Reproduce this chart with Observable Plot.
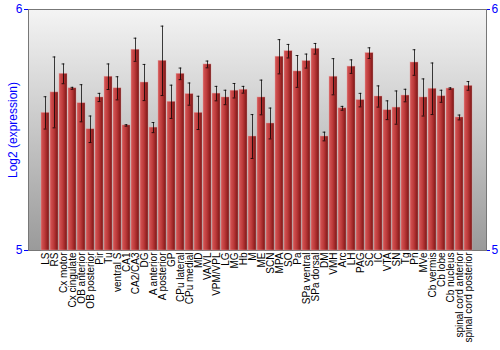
<!DOCTYPE html>
<html>
<head>
<meta charset="utf-8">
<script src="https://cdn.jsdelivr.net/npm/d3@7"></script>
<script src="https://cdn.jsdelivr.net/npm/@observablehq/plot@0.6"></script>
<style>
  body { margin: 0; background: #fff; }
  #chart { width: 500px; height: 350px; }
</style>
</head>
<body>
<div id="chart"></div>
<script>
const regions = ["LS","RS","Cx motor","Cx cingulate","OB anterior","OB posterior","Pir","Tu","ventral S","CA1","CA2/CA3","DG","A anterior","A posterior","GP","CPu lateral","CPu medial","MD","VA/VL","VPM/VPL","LG","MG","Hb","M","ME","SCN","MPA","SO","Pa","SPa ventral","SPa dorsal","DM","VMH","Arc","LH","PAG","SC","IC","VTA","SN","Tg","Pn","MVe","Cb vermis","Cb lobe","Cb nucleus","spinal cord anterior","spinal cord posterior"];
const expression = [5.571,5.656,5.733,5.673,5.611,5.503,5.635,5.721,5.673,5.519,5.833,5.697,5.510,5.787,5.617,5.733,5.649,5.571,5.772,5.651,5.635,5.663,5.667,5.473,5.635,5.527,5.804,5.827,5.743,5.786,5.837,5.473,5.721,5.590,5.763,5.624,5.819,5.639,5.582,5.593,5.643,5.780,5.635,5.671,5.640,5.672,5.552,5.683];
const errors = [0.067,0.147,0.041,0.004,0.077,0.055,0.017,0.053,0.048,0.003,0.048,0.075,0.021,0.144,0.069,0.024,0.046,0.069,0.014,0.030,0.030,0.030,0.014,0.091,0.072,0.064,0.071,0.028,0.066,0.029,0.022,0.018,0.075,0.008,0.028,0.028,0.022,0.044,0.039,0.069,0.026,0.053,0.077,0.107,0.025,0.003,0.010,0.018];
const yTicks = [5, 6];
const yLabel = "Log2 (expression)";

const data = regions.map((r, i) => ({region: r, value: expression[i], lo: expression[i] - errors[i], hi: expression[i] + errors[i], base: 5}));

const defs = () => {
  const g = d3.create("svg:defs");
  const bg = g.append("linearGradient").attr("id", "bgGrad").attr("x1", 0).attr("y1", 0).attr("x2", 0).attr("y2", 1);
  bg.append("stop").attr("offset", "0%").attr("stop-color", "#f4f4f4");
  bg.append("stop").attr("offset", "100%").attr("stop-color", "#9a9a9a");
  const bar = g.append("linearGradient").attr("id", "barGrad").attr("x1", 0).attr("y1", 0).attr("x2", 1).attr("y2", 0);
  bar.append("stop").attr("offset", "0%").attr("stop-color", "#d65858");
  bar.append("stop").attr("offset", "45%").attr("stop-color", "#bd3b3b");
  bar.append("stop").attr("offset", "80%").attr("stop-color", "#962222");
  bar.append("stop").attr("offset", "100%").attr("stop-color", "#6a1010");
  return g.node();
};

const chart = Plot.plot({
  width: 500,
  height: 350,
  marginLeft: 28,
  marginRight: 14,
  marginTop: 9,
  marginBottom: 100,
  style: {fontFamily: "Liberation Sans, Arial, sans-serif", background: "#fff"},
  x: {domain: regions, paddingInner: 0.1, paddingOuter: 0.05, label: null, axis: null},
  y: {domain: [5, 6], label: null},
  marks: [
    defs,
    Plot.frame({fill: "url(#bgGrad)", stroke: "#777"}),
    Plot.barY(data, {x: "region", y1: "base", y2: "value", fill: "url(#barGrad)", stroke: "#e6a0a0", strokeOpacity: 0.7, strokeWidth: 0.6}),
    Plot.ruleX(data, {x: "region", y1: "lo", y2: "hi", stroke: "#000", strokeOpacity: 0.75, strokeWidth: 1}),
    Plot.tickY(data, {x: "region", y: "lo", stroke: "#000", strokeOpacity: 0.8, strokeWidth: 1, insetLeft: 2.6, insetRight: 2.6}),
    Plot.tickY(data, {x: "region", y: "hi", stroke: "#000", strokeOpacity: 0.8, strokeWidth: 1, insetLeft: 2.6, insetRight: 2.6}),
    Plot.text(data, {x: "region", frameAnchor: "bottom", text: "region", rotate: -90, textAnchor: "end", lineAnchor: "middle", dy: 2, fontSize: 10, fill: "#000"}),
    Plot.axisY({anchor: "left", ticks: yTicks, tickFormat: d3.format("d"), tickSize: 4, tickPadding: 2, fontSize: 12, color: "#0000ff", label: yLabel, labelAnchor: "center", labelArrow: "none", labelOffset: 20}),
    Plot.axisY({anchor: "right", ticks: yTicks, tickFormat: d3.format("d"), tickSize: 3, tickPadding: 2, fontSize: 12, color: "#0000ff", label: null})
  ]
});
document.getElementById("chart").appendChild(chart);
</script>
</body>
</html>
